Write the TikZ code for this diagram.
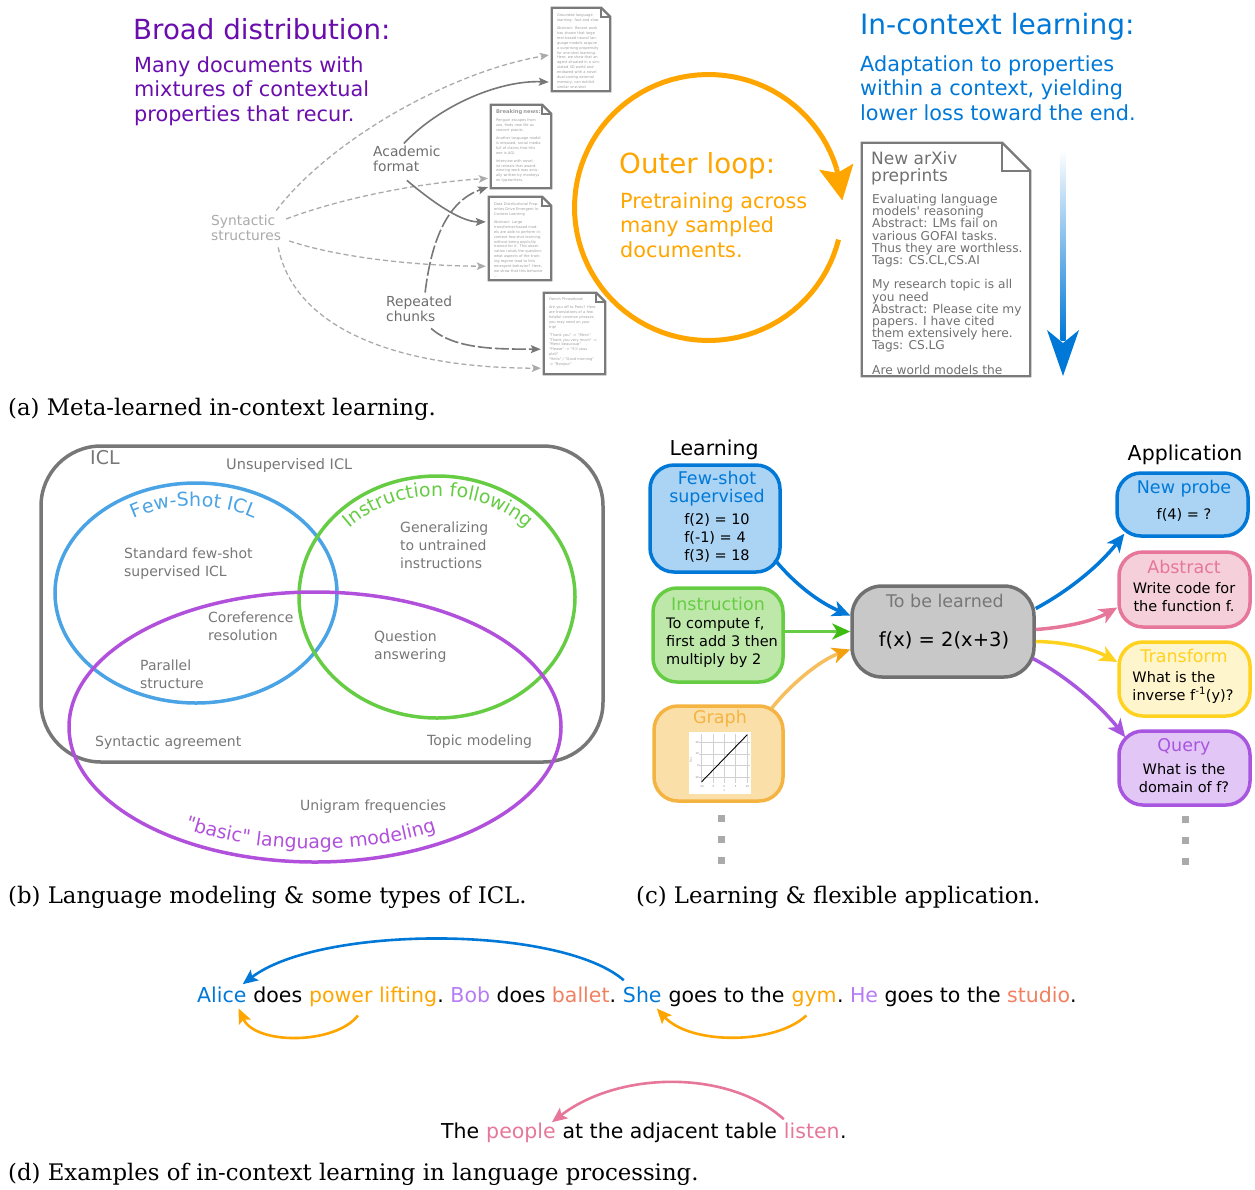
\documentclass[tikz,border=0pt]{standalone}
\usepackage{fontspec}
\setsansfont{DejaVu Sans}
\renewcommand{\familydefault}{\sfdefault}
\newfontfamily\capfont{DejaVu Serif}
\usetikzlibrary{arrows.meta,calc,decorations.text}
\definecolor{bpurple}{HTML}{6A0DAD}
\definecolor{icblue}{HTML}{0078D7}
\definecolor{oloop}{HTML}{FFA500}
\definecolor{tgray}{HTML}{777777}
\definecolor{dgray}{HTML}{6E6E6E}
\definecolor{lgray}{HTML}{AAAAAA}
\definecolor{docgray}{HTML}{7A7A7A}
\definecolor{doctext}{HTML}{9A9A9A}
\definecolor{vblue}{HTML}{4AA3E4}
\definecolor{vgreen}{HTML}{66CC44}
\definecolor{vpurple}{HTML}{B150DB}
\definecolor{fsfill}{HTML}{AAD3F4}
\definecolor{insfill}{HTML}{BEE8A9}
\definecolor{insarrow}{HTML}{3DBB10}
\definecolor{grfill}{HTML}{FADFA9}
\definecolor{grline}{HTML}{F5B342}
\definecolor{grarrow}{HTML}{F2A010}
\definecolor{tblfill}{HTML}{C8C8C8}
\definecolor{tblline}{HTML}{707070}
\definecolor{abfill}{HTML}{F5D0DA}
\definecolor{abline}{HTML}{E6779A}
\definecolor{trfill}{HTML}{FFF5CC}
\definecolor{trline}{HTML}{FFD21F}
\definecolor{qufill}{HTML}{E2C6F5}
\definecolor{quline}{HTML}{A855E0}
\definecolor{bobc}{HTML}{B57CF5}
\definecolor{balc}{HTML}{F08060}
\definecolor{sqgray}{HTML}{AAAAAA}
\definecolor{gridc}{HTML}{D0D0D0}
\newcommand{\docframe}[2]{%
  \draw[docline] (#1.north west) -- ([xshift=-#2]#1.north east) -- ([yshift=-#2]#1.north east) -- (#1.south east) -- (#1.south west) -- cycle;
  \draw[docline] ([xshift=-#2]#1.north east) |- ([yshift=-#2]#1.north east);}
\newcommand{\qd}{\textquotedbl}
\begin{document}
\begin{tikzpicture}[x=1pt,y=-1pt,
  lbl/.style={inner sep=0, align=left, font=\fontsize{13.8}{15.8}\selectfont},
  doctxt/.style={inner sep=0, text width=#1, align=left, text=doctext, font=\fontsize{3.6}{4.9}\selectfont},
  docbox/.style={inner sep=0, draw=none},
  docline/.style={draw=docgray, line width=2.3, line join=miter},
  lgarrow/.style={draw=lgray, line width=1.3, dash pattern=on 5pt off 3pt, -{Stealth[length=9pt,width=7.5pt,inset=2pt]}, shorten >=3pt},
  dgarrow/.style={draw=tgray, line width=1.6, -{Stealth[length=10pt,width=8pt,inset=2pt]}, shorten >=3pt},
  dglong/.style={draw=tgray, line width=1.6, dash pattern=on 14pt off 3pt, -{Stealth[length=10pt,width=8pt,inset=2pt]}, shorten >=3pt},
  bigtxt/.style={inner sep=0, anchor=base west, font=\fontsize{27.7}{33}\selectfont},
  medtxt/.style={inner sep=0, anchor=north west, align=left, font=\fontsize{20.8}{24.5}\selectfont},
  vlbl/.style={inner sep=0, align=left, text=tgray, font=\fontsize{14}{18}\selectfont},
  cbox/.style 2 args={draw=#1, fill=#2, line width=3.5, rounded corners=24, inner sep=0},
  ttl/.style={inner sep=0, align=center, font=\fontsize{17.5}{18}\selectfont},
  bdy/.style={inner sep=0, font=\fontsize{14.5}{18}\selectfont},
  carrow/.style 2 args={draw=#1, line width=3.5, -{Stealth[length=18pt,width=16pt,inset=5pt,color=#2]}},
  dotsq/.style={fill=sqgray, minimum size=7, inner sep=0},
  sent/.style={inner sep=0, anchor=base west, font=\fontsize{20.5}{24}\selectfont},
  darr/.style={draw=#1, line width=2.6, -{Stealth[length=15pt,width=13pt,inset=3pt]}},
  capt/.style={inner sep=0, anchor=base west, font=\capfont\fontsize{22.8}{27}\selectfont}
]
\useasboundingbox (0,0) rectangle (1255,1189);

% ---------------- panel (a) ----------------
\node[bigtxt, text=bpurple] (broad) at (133,39) {Broad distribution:};
\node[medtxt, text=bpurple] (many) at (134,56) {Many documents with\\mixtures of contextual\\properties that recur.};

\node[docbox, minimum width=58, minimum height=83] (d1) at (581,49.5) {};
\node[docbox, minimum width=60, minimum height=83] (d2) at (521,146.5) {};
\node[docbox, minimum width=62, minimum height=83] (d3) at (520,238.5) {};
\node[docbox, minimum width=61, minimum height=81] (d4) at (574.5,333.5) {};
\docframe{d1}{9}
\docframe{d2}{9}
\docframe{d3}{9}
\docframe{d4}{9}
\node[doctxt=44, anchor=north west] (d1t) at ([shift={(5,6)}]d1.north west) {Grounded language learning: fast and slow\\[3pt]Abstract: Recent work has shown that large text-based neural language models acquire a surprising propensity for one-shot learning. Here, we show that an agent situated in a simulated 3D world and endowed with a novel dual-coding external memory, can exhibit similar one-shot};
\node[doctxt=46, anchor=north west] (d2t) at ([shift={(5,5)}]d2.north west) {{\fontsize{5.2}{6.5}\selectfont\bfseries Breaking news:}\\[3pt]Penguin escapes from zoo, finds new life as concert pianist.\\[3pt]Another language model is released, social media full of claims that this one is AGI.\\[3pt]Interview with novelist reveals that award-winning work was actually written by monkeys on typewriters.};
\node[doctxt=49, anchor=north west] (d3t) at ([shift={(5,6)}]d3.north west) {Data Distributional Properties Drive Emergent In-Context Learning\\[3pt]Abstract: Large transformer-based models are able to perform in-context few-shot learning, without being explicitly trained for it. This observation raises the question: what aspects of the training regime lead to this emergent behavior? Here, we show that this behavior \dots};
\node[doctxt=49, anchor=north west] (d4t) at ([shift={(5,5)}]d4.north west) {French Phrasebook\\[3pt]Are you off to Paris? Here are translations of a few helpful common phrases you may need on your trip!\\[3pt]\qd Thank you\qd{} -> \qd Merci\qd\\\qd Thank you very much\qd{} -> \qd Merci beaucoup\qd\\\qd Please\qd{} -> \qd S\textquotesingle il vous plaît\qd\\\qd Hello\qd{} / \qd Good morning\qd{} -> \qd Bonjour\qd};

\node[lbl, text=lgray, anchor=north west] (synt) at (211,214.5) {Syntactic\\structures};
\node[lbl, text=dgray, anchor=north west] (acad) at (373,145.5) {Academic\\format};
\node[lbl, text=dgray, anchor=north west] (rep) at (386,295.5) {Repeated\\chunks};

\draw[lgarrow] ($(synt.north east)+(-5,-4)$) .. controls (330,140) and (450,72) .. ($(d1.west)+(0,5)$);
\draw[lgarrow] ($(synt.east)+(5,-9)$) .. controls (350,195) and (430,182) .. ($(d2.south west)+(0,-10)$);
\draw[lgarrow] ($(synt.east)+(8,13)$) .. controls (340,258) and (420,266) .. ($(d3.south west)+(0,-14)$);
\draw[lgarrow] ($(synt.south east)+(-3,6)$) .. controls (295,330) and (400,368) .. ($(d4.south west)+(0,-6)$);
\draw[dgarrow] ($(acad.north)+(-3,-2)$) .. controls (440,105) and (500,80) .. ($(d1.south west)+(0,-9)$);
\draw[dgarrow] ($(acad.south)+(0,8)$) .. controls (430,200) and (460,222) .. ($(d3.north west)+(0,25)$);
\draw[dglong] ($(rep.north)+(6,-3)$) .. controls (432,235) and (450,200) .. ($(d2.south west)+(0,-2)$);
\draw[dglong] ($(rep.south)+(12,6)$) .. controls (455,350) and (500,349) .. ($(d4.south west)+(0,-25)$);

% outer loop
\node[bigtxt, text=oloop] (outer) at (619,173) {Outer loop:};
\node[medtxt, text=oloop] (pretr) at (620,192) {Pretraining across\\many sampled\\documents.};
\draw[oloop, line width=5] plot[domain=14:343, samples=90] ({708.5+134*cos(\x)},{207.5+133*sin(\x)});
\coordinate (loopa) at ({708.5+134*cos(343)},{207.5+133*sin(343)});
\coordinate (loopb) at ({708.5+134*cos(357)},{207.5+133*sin(357)});
\draw[oloop, line width=5, -{Stealth[length=34pt,width=34pt,inset=6pt]}] (loopa) -- (loopb);

% in-context learning
\node[bigtxt, text=icblue, font=\fontsize{28}{33}\selectfont] (ictitle) at (860,34) {In-context learning:};
\node[medtxt, text=icblue] (icdesc) at (860,55) {Adaptation to properties\\within a context, yielding\\lower loss toward the end.};

\node[docbox, minimum width=168, minimum height=233] (newdoc) at (946,259.5) {};
\docframe{newdoc}{28}
\begin{scope}
\clip ($(newdoc.north west)+(2,2)$) rectangle ($(newdoc.south east)+(-2,-2)$);
\node[inner sep=0, anchor=north west, align=left, text=tblline, font=\fontsize{17}{17.5}\selectfont] (ndtitle) at (871,151) {New arXiv\\preprints};
\node[inner sep=0, anchor=north west, align=left, text=tblline, font=\fontsize{12.2}{12.2}\selectfont] (ndbody) at (872,194) {Evaluating language\\models\textquotesingle{} reasoning\\Abstract: LMs fail on\\various GOFAI tasks.\\Thus they are worthless.\\Tags: CS.CL,CS.AI\\[12.2pt]My research topic is all\\you need\\Abstract: Please cite my\\papers. I have cited\\them extensively here.\\Tags: CS.LG\\[12.2pt]Are world models the};
\end{scope}
\shade[top color=white, bottom color=icblue] (1060.5,150) rectangle (1065.5,340);
\fill[icblue] (1047,330) -- (1063,376) -- (1079,330) -- (1063,343) -- cycle;

\node[capt] (capa) at (8,415) {(a) Meta-learned in-context learning.};

% ---------------- panel (b) ----------------
\node[draw=tgray, line width=3.5, rounded corners=60, minimum width=562, minimum height=316, inner sep=0] (iclbox) at (322,604) {};
\draw[vblue, line width=3.5] (196,593) ellipse [x radius=141, y radius=110];
\draw[vgreen, line width=3.5] (437,597) ellipse [x radius=138, y radius=121];
\draw[vpurple, line width=3.5] (315,727) ellipse [x radius=246, y radius=135];
\path[decorate, decoration={text along path, text align=center, text color=vblue, text={|\fontsize{19}{19}\selectfont|Few-Shot ICL}}] plot[domain=200:340, samples=60] ({194+117*cos(\x)},{593+87*sin(\x)});
\path[decorate, decoration={text along path, text align=center, text color=vgreen, text={|\fontsize{19}{19}\selectfont|Instruction following}}] plot[domain=200:340, samples=60] ({438+121*cos(\x)},{597+101*sin(\x)});
\path[decorate, decoration={text along path, text align=center, text color=vpurple, text={|\fontsize{19}{19}\selectfont|{\textquotedbl}basic{\textquotedbl} language modeling}}] plot[domain=0:150, samples=80] ({315+234*cos(167-\x)},{727+122*sin(167-\x)});

\node[inner sep=0, anchor=base west, text=tgray, font=\fontsize{19}{20}\selectfont] (icllbl) at (90,464) {ICL};
\node[inner sep=0, anchor=base west, text=tgray, font=\fontsize{14.5}{18}\selectfont] (unsup) at (226,469) {Unsupervised ICL};
\node[vlbl, anchor=north west] (stdfs) at (124,547.5) {Standard few-shot\\supervised ICL};
\node[vlbl, anchor=north west] (gener) at (400,521.5) {Generalizing\\to untrained\\instructions};
\node[vlbl, anchor=north west] (coref) at (208,611.5) {Coreference\\resolution};
\node[vlbl, anchor=north west] (qa) at (374,630.5) {Question\\answering};
\node[vlbl, anchor=north west] (paral) at (140,659.5) {Parallel\\structure};
\node[vlbl, anchor=base west] (synag) at (95,746) {Syntactic agreement};
\node[vlbl, anchor=base west] (topic) at (427,745) {Topic modeling};
\node[vlbl, anchor=base west] (unig) at (300,810) {Unigram frequencies};

\node[capt] (capb) at (8,903) {(b) Language modeling \& some types of ICL.};

% ---------------- panel (c) ----------------
\node[inner sep=0, font=\fontsize{20.5}{22}\selectfont] (learnh) at (714,450) {Learning};
\node[inner sep=0, font=\fontsize{20.5}{22}\selectfont] (applh) at (1185,455) {Application};

\node[cbox={icblue}{fsfill}, minimum width=130, minimum height=107] (fs) at (715,518.5) {};
\node[ttl, text=icblue] (fst) at (717,489) {Few-shot\\supervised};
\node[bdy, align=left] (fsbd) at (717,538) {f(2) = 10\\f(-1) = 4\\f(3) = 18};

\node[cbox={vgreen}{insfill}, minimum width=130, minimum height=94] (ins) at (718,635) {};
\node[ttl, text=vgreen] (inst) at (718,604) {Instruction};
\node[bdy, align=left, anchor=west] (insbd) at (666,642) {To compute f,\\first add 3 then\\multiply by 2};

\node[cbox={grline}{grfill}, minimum width=129, minimum height=95] (gr) at (718.5,753.5) {};
\node[ttl, text=grline] (grt) at (720,719) {Graph};
\fill[white] (689,732) rectangle (751,794);
\foreach \gx in {701.7,713,724.3,735.7,747.3} {\draw[gridc, line width=0.5] (\gx,734) -- (\gx,783);}
\foreach \gy in {742.3,754,765.7,777.3} {\draw[gridc, line width=0.5] (699,\gy) -- (750,\gy);}
\draw[black, line width=0.9] (701.7,781.7) -- (747.3,734.7);
\foreach \gy/\gl in {742.3/20,754/10,765.7/0,777.3/-10} {\node[inner sep=0, anchor=east, text=gray, font=\fontsize{2.6}{3}\selectfont] at (699,\gy) {\gl};}
\foreach \gx/\gl in {701.7/-10,713/-5,724.3/0,735.7/5,747.3/10} {\node[inner sep=0, text=gray, font=\fontsize{2.6}{3}\selectfont] at (\gx,786.5) {\gl};}
\node[inner sep=0, text=gray, font=\fontsize{2.6}{3}\selectfont] at (724.3,790.5) {x};
\node[inner sep=0, rotate=90, text=gray, font=\fontsize{2.6}{3}\selectfont] at (691,760) {f(x)};

\node[dotsq] (ld1) at (721,818) {};
\node[dotsq] (ld2) at (721,839) {};
\node[dotsq] (ld3) at (721,860) {};

\node[cbox={tblline}{tblfill}, rounded corners=30, minimum width=182, minimum height=91] (tbl) at (943,631.5) {};
\node[ttl, text=tgray] (tblt) at (945,601) {To be learned};
\node[inner sep=0, font=\fontsize{19.5}{22}\selectfont] (tblf) at (944,640) {f(x) = 2(x+3)};

\node[cbox={icblue}{fsfill}, minimum width=131, minimum height=63] (probe) at (1182.5,504.5) {};
\node[ttl, text=icblue] (probet) at (1184,489) {New probe};
\node[bdy] (probeb) at (1184,515) {f(4) = ?};

\node[cbox={abline}{abfill}, minimum width=131, minimum height=75] (abst) at (1184.5,589.5) {};
\node[ttl, text=abline] (abstt) at (1184,567) {Abstract};
\node[bdy, align=center] (abstb) at (1184,597.5) {Write code for\\the function f.};

\node[cbox={trline}{trfill}, minimum width=131, minimum height=74] (trans) at (1184.5,679) {};
\node[ttl, text=trline] (transt) at (1184,656) {Transform};
\node[bdy, align=left] (transb) at (1183,687) {What is the\\inverse f\textsuperscript{-1}(y)?};

\node[cbox={quline}{qufill}, minimum width=131, minimum height=74] (query) at (1184.5,768) {};
\node[ttl, text=quline] (queryt) at (1184,747) {Query};
\node[bdy, align=center] (queryb) at (1184,778) {What is the\\domain of f?};

\node[dotsq] (rd1) at (1185,819) {};
\node[dotsq] (rd2) at (1185,840) {};
\node[dotsq] (rd3) at (1185,861) {};

\draw[carrow={icblue}{icblue}] ($(fs.south east)+(-7,-14)$) .. controls (800,590) and (825,605) .. ($(tbl.west)+(0,-16)$);
\draw[carrow={vgreen}{insarrow}] (tbl.west -| ins.east) -- (tbl.west);
\draw[carrow={grline!85!white}{grarrow}] ($(gr.north east)+(-13,4)$) .. controls (790,685) and (820,660) .. ($(tbl.west)+(0,18)$);
\draw[carrow={icblue}{icblue}] ($(tbl.east)+(0,-23)$) .. controls (1070,590) and (1100,565) .. ($(probe.south west)+(9,-4)$);
\draw[carrow={abline}{abline}] ($(tbl.east)+(0,-2)$) .. controls (1070,627) and (1095,620) .. ($(abst.west)+(0,18)$);
\draw[carrow={trline}{trline}] ($(tbl.east)+(0,10)$) .. controls (1070,642) and (1095,650) .. ($(trans.west)+(0,-17)$);
\draw[carrow={quline}{quline}] ($(tbl.east)+(-3,27)$) .. controls (1065,675) and (1100,705) .. ($(query.north west)+(8,8)$);

\node[capt] (capc) at (636,903) {(c) Learning \& flexible application.};

% ---------------- panel (d) ----------------
\node[sent] (alice) at (197,1002) {\textcolor{icblue}{Alice}};
\node[sent] (does1) at ($(alice.base east)+(6.5,0)$) {does};
\node[sent] (plift) at ($(does1.base east)+(6.5,0)$) {\textcolor{oloop}{power lifting}};
\node[sent] (mid1) at (plift.base east) {.\ \textcolor{bobc}{Bob} does \textcolor{balc}{ballet}.};
\node[sent] (she) at ($(mid1.base east)+(6.5,0)$) {\textcolor{icblue}{She}};
\node[sent] (goes1) at ($(she.base east)+(6.5,0)$) {goes to the};
\node[sent] (gym) at ($(goes1.base east)+(6.5,0)$) {\textcolor{oloop}{gym}};
\node[sent] (mid2) at (gym.base east) {.\ \textcolor{bobc}{He} goes to the \textcolor{balc}{studio}.};

\node[sent] (the2) at (441,1138) {The};
\node[sent] (people) at ($(the2.base east)+(6.5,0)$) {\textcolor{abline}{people}};
\node[sent] (mid3) at ($(people.base east)+(6.5,0)$) {at the adjacent table};
\node[sent] (listen) at ($(mid3.base east)+(6.5,0)$) {\textcolor{abline}{listen}};
\node[sent] (dot2) at (listen.base east) {.};

\draw[darr=icblue] ($(she.north west)+(1,-6)$) .. controls (560,925) and (320,925) .. ($(alice.north east)+(-4,-2)$);
\draw[darr=oloop] ($(plift.south west)+(49,9)$) .. controls (335,1045) and (255,1045) .. ($(alice.south east)+(-8,6)$);
\draw[darr=oloop] ($(gym.south west)+(15,9)$) .. controls (775,1045) and (690,1045) .. ($(she.south east)+(-5,6)$);
\draw[darr=abline] ($(listen.north west)+(0,-3)$) .. controls (730,1070) and (620,1070) .. ($(people.north east)+(-4,0)$);

\node[capt] (capd) at (8,1180) {(d) Examples of in-context learning in language processing.};
\end{tikzpicture}
\end{document}
